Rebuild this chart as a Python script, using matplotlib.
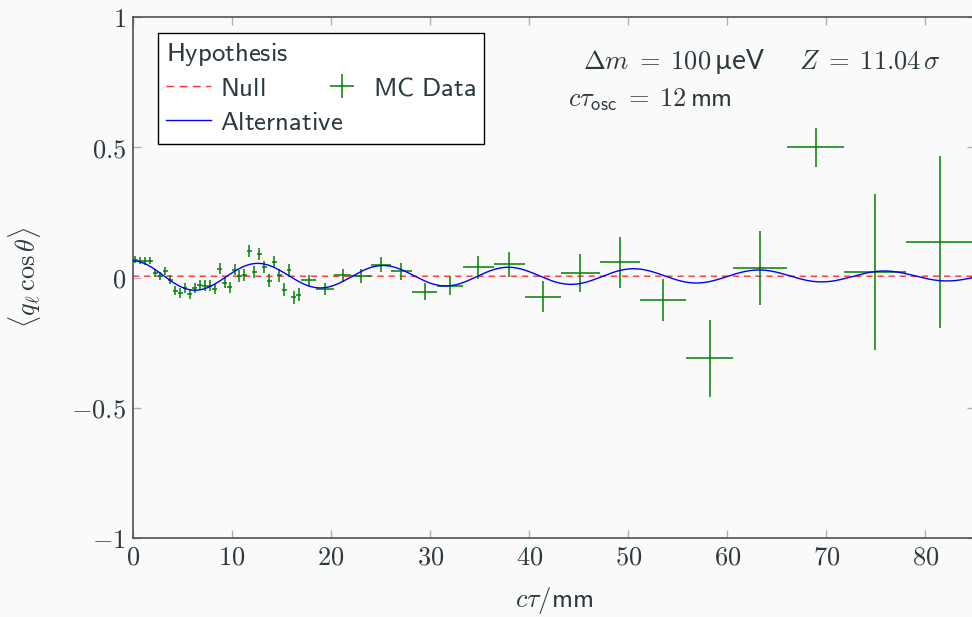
import numpy as np
import matplotlib
matplotlib.use("Agg")
import matplotlib.pyplot as plt
from matplotlib.lines import Line2D
from matplotlib.legend_handler import HandlerLine2D

# fine bins, 0.5 mm wide
fine_x = np.arange(0.25, 17.0, 0.5)
fine_y = [0.068, 0.065, 0.063, 0.065, 0.017, 0.005, 0.024, -0.009, -0.050, -0.059,
          -0.040, -0.065, -0.040, -0.028, -0.031, -0.031, -0.044, 0.033, -0.020, -0.037,
          0.030, 0.005, 0.010, 0.100, 0.020, 0.091, 0.040, -0.012, 0.059, 0.008,
          -0.047, 0.027, -0.076, -0.066]
fine_yerr = [0.014, 0.014, 0.014, 0.015, 0.015, 0.016, 0.016, 0.017, 0.017, 0.018,
             0.018, 0.019, 0.019, 0.019, 0.020, 0.020, 0.020, 0.021, 0.021, 0.021,
             0.022, 0.022, 0.022, 0.023, 0.023, 0.023, 0.024, 0.024, 0.024, 0.025,
             0.025, 0.025, 0.026, 0.026]

# wide bins
wide_edges = [17.0, 18.5, 20.3, 22.0, 24.0, 26.0, 28.2, 30.7, 33.3, 36.4, 39.6,
              43.2, 47.1, 51.2, 55.8, 60.6, 66.0, 71.8, 78.0, 84.9]
wide_y = [-0.011, -0.044, 0.008, 0.004, 0.049, 0.024, -0.054, -0.031, 0.040, 0.050,
          -0.073, 0.017, 0.058, -0.086, -0.310, 0.036, 0.500, 0.022, 0.136]
wide_yerr = [0.021, 0.022, 0.026, 0.027, 0.028, 0.033, 0.032, 0.038, 0.044, 0.048,
             0.061, 0.072, 0.099, 0.081, 0.147, 0.143, 0.074, 0.300, 0.330]

# alternative hypothesis parameters
alt_amp = 0.059
alt_decay = 70.0
alt_period = 12.65
null_level = 0.005

txt = "#2b3a40"
bg = "#fafafa"
fs = 19
lfs = 19.3
plt.rcParams["mathtext.fontset"] = "cm"
plt.rcParams["font.family"] = ["DejaVu Sans"]


class RightMarker(HandlerLine2D):
    # put the "+" near the text, like the pgfplots legend
    def get_xdata(self, legend, xdescent, ydescent, width, height, fontsize):
        return [-xdescent, -xdescent + width], [-xdescent + 1.12 * width]


fig = plt.figure(figsize=(9.72, 6.17), dpi=100, facecolor=bg)
ax = fig.add_axes([133 / 972, 79 / 617, 842 / 972, 521 / 617], facecolor=bg)

edges = np.array(wide_edges)
wx = (edges[:-1] + edges[1:]) / 2
wxerr = (edges[1:] - edges[:-1]) / 2

ax.errorbar(fine_x, fine_y, xerr=0.25, yerr=fine_yerr, fmt="none",
            ecolor="green", elinewidth=1.1, capsize=0, zorder=3)
ax.errorbar(wx, wide_y, xerr=wxerr, yerr=wide_yerr, fmt="none",
            ecolor="green", elinewidth=1.1, capsize=0, zorder=3)

xs = np.linspace(0, 85, 1500)
ax.plot(xs, np.full_like(xs, null_level), color="#ff3030", lw=1.0,
        dashes=(4.5, 3.5), zorder=2)
ax.plot(xs, null_level + alt_amp * np.exp(-xs / alt_decay) * np.cos(2 * np.pi * xs / alt_period),
        color="blue", lw=1.0, zorder=4)

ax.set_xlim(0, 85)
ax.set_ylim(-1, 1)
ax.set_xticks(np.arange(0, 90, 10))
ax.set_xticklabels([f"${v}$" for v in range(0, 90, 10)])
ax.set_yticks([-1, -0.5, 0, 0.5, 1])
ax.set_yticklabels(["$-1$", "$-0.5$", "$0$", "$0.5$", "$1$"])
ax.tick_params(direction="in", length=6, width=1, color="#b0b0b0",
               labelsize=fs, labelcolor=txt, top=True, right=True, pad=5)
for s in ax.spines.values():
    s.set_color("#4a5358")
    s.set_linewidth(1.2)

ax.set_xlabel(r"$c\tau/\mathsf{mm}$", fontsize=fs, color=txt, labelpad=10)
ax.set_ylabel(r"$\langle q_\ell\,\cos\theta\rangle$", fontsize=fs, color=txt, labelpad=20)

ax.text(0.535, 0.915, r"$\Delta m\;=\;100\,$µeV$\quad\;\; Z\;=\;11.04\,\sigma$",
        transform=ax.transAxes, fontsize=fs, color=txt, ha="left", va="center",
        family=["Lato", "DejaVu Sans"])
ax.text(0.517, 0.842, r"$c\tau_{\mathsf{osc}}\;=\;12\,\mathsf{mm}$",
        transform=ax.transAxes, fontsize=fs, color=txt, ha="left", va="center")

h_null = Line2D([], [], color="#ff3030", lw=1.0, dashes=(5.5, 4))
h_alt = Line2D([], [], color="blue", lw=1.0)
h_mc = Line2D([], [], color="green", marker="+", markersize=17, ls="none", mew=1.1)
leg = ax.legend([h_null, h_alt, h_mc],
                [r"$\mathsf{Null}$", r"$\mathsf{Alternative}$", r"$\mathsf{MC\ Data}$"],
                title=r"$\mathsf{Hypothesis}$", ncol=2, loc="upper left",
                bbox_to_anchor=(0.03, 0.97), borderaxespad=0, fontsize=lfs,
                title_fontsize=lfs, alignment="left", frameon=True, fancybox=False,
                edgecolor="black", facecolor="white", framealpha=1,
                handlelength=1.65, handletextpad=0.35, columnspacing=-0.87,
                labelspacing=0.3, borderpad=0.3, labelcolor=txt,
                handler_map={h_mc: RightMarker()})
leg.get_frame().set_linewidth(1.0)
leg.get_title().set_color(txt)

fig.savefig("out.png", dpi=100, facecolor=bg)
